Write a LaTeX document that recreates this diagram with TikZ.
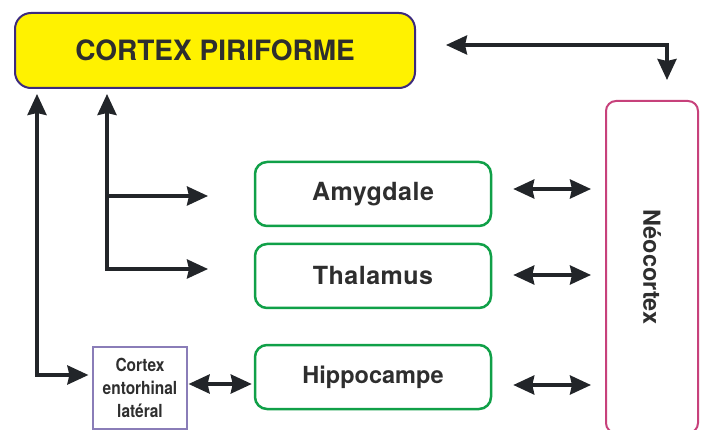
\documentclass[tikz,border=0pt]{standalone}
\usepackage{fontspec}
\setmainfont{TeX Gyre Heros}
\newfontfamily\narrowfont[FakeStretch=0.86]{TeX Gyre Heros}
\usetikzlibrary{positioning,calc,arrows.meta}
\definecolor{cpfpurple}{HTML}{3C2A7E}
\definecolor{boxgreen}{HTML}{10A048}
\definecolor{neopink}{HTML}{C7417B}
\definecolor{entopurple}{HTML}{8A7DB8}
\definecolor{arrowdark}{HTML}{222529}
\definecolor{textgray}{HTML}{2E2E2E}

\begin{document}
\begin{tikzpicture}[x=1pt,y=-1pt,>={Stealth[length=21pt,width=19pt,inset=2pt]},
            cpfbox/.style={draw=cpfpurple,fill=yellow,line width=2pt,rounded corners=16pt,
              minimum width=400pt,minimum height=75pt,text=textgray,
              font=\bfseries\fontsize{28}{32}\selectfont},
            greenbox/.style={draw=boxgreen,line width=2.5pt,rounded corners=12pt,
              minimum width=236pt,minimum height=64pt,text=textgray,
              font=\bfseries\fontsize{23.5}{28}\selectfont},
            spaced/.style={font=\bfseries\fontsize{25}{28}\selectfont\addfontfeature{LetterSpace=2}},
            entobox/.style={draw=entopurple,line width=1.2pt,minimum width=94pt,
              minimum height=82pt,align=center,inner sep=0pt,text=textgray,
              font=\narrowfont\bfseries\fontsize{18}{23}\selectfont},
            neobox/.style={draw=neopink,line width=2pt,rounded corners=10pt,
              minimum width=92pt,minimum height=332pt,text=textgray,
              font=\bfseries\fontsize{23.5}{26}\selectfont},
            link/.style={draw=arrowdark,line width=3.5pt}]
            \useasboundingbox (0,0) rectangle (704,430);
            \clip (0,0) rectangle (704,430);

            \node[cpfbox] (cpf) at (215,50.5) {CORTEX PIRIFORME};
            \node[greenbox,spaced] (amy) at (373,194) {Amygdale};
            \node[greenbox,spaced] (thal) at (373,276) {Thalamus};
            \node[greenbox] (hip) at (373,377) {Hippocampe};
            \node[entobox] (ento) at (140,388) {Cortex\\entorhinal\\latéral};
            \node[neobox] (neo) at (652,267) {\rotatebox{-90}{Néocortex}};

            \coordinate (jamy) at (107,196);
            \coordinate (jthal) at (107,269);
            \coordinate (jento) at (37,375);
            \coordinate (tamy) at (208,196);
            \coordinate (tthal) at (208,269);

            \draw[link,<->] ($(cpf.south -| jthal)+(0,5)$) -- (jthal) -- (tthal);
            \draw[link,->] (jamy) -- (tamy);
            \draw[link,<->] ($(cpf.south -| jento)+(0,5)$) -- (jento) -- ($(ento.west |- jento)+(-4,0)$);
            \draw[link,<->] ($(ento.east)+(1,-4)$) -- ($(ento.east -| hip.west)+(-2,-4)$);

            \draw[link,<->] ($(amy.east)+(21,-5)$) -- ($(neo.west |- amy.east)+(-14,-5)$);
            \draw[link,<->] ($(thal.east)+(21,-1)$) -- ($(neo.west |- thal.east)+(-14,-1)$);
            \draw[link,<->] ($(hip.east)+(21,8)$) -- ($(neo.west |- hip.east)+(-14,8)$);

            \draw[link,<->] ($(cpf.east)+(30,-5.5)$) -| ($(neo.north)+(15,-20)$);
\end{tikzpicture}
\end{document}
